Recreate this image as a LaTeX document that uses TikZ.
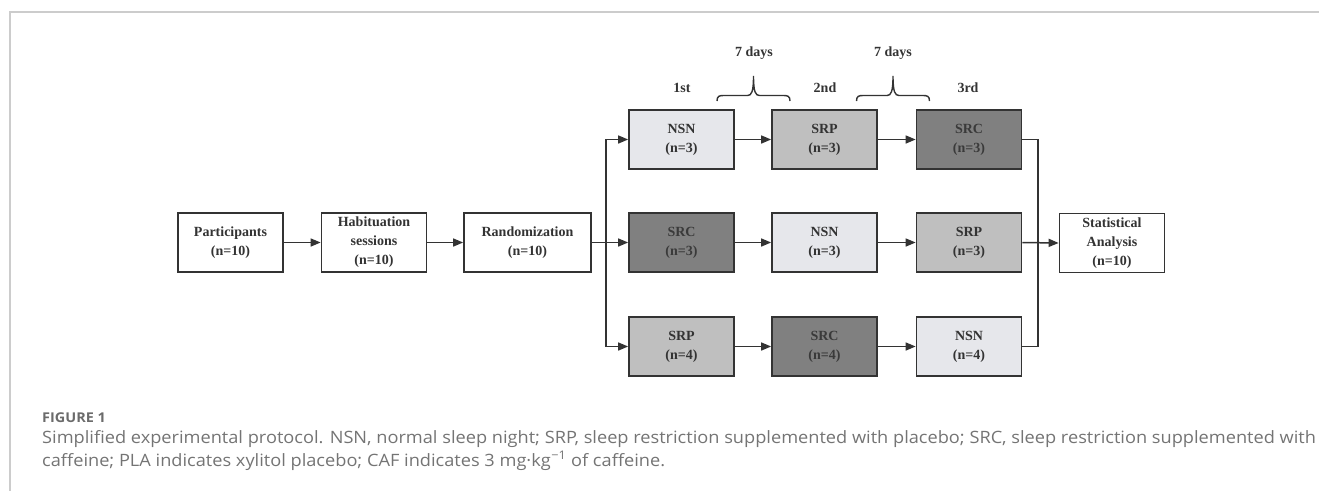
\documentclass[tikz,border=0pt]{standalone}
\usepackage{fontspec}
\setmainfont{Liberation Serif}
\newfontfamily\capfont[FakeStretch=1.07]{Open Sans}
\usetikzlibrary{arrows.meta}
\definecolor{boxline}{HTML}{333333}
\definecolor{nsnfill}{HTML}{E6E7EB}
\definecolor{srpfill}{HTML}{BFBFBF}
\definecolor{srcfill}{HTML}{808080}
\definecolor{srctext}{HTML}{3A3A3A}
\definecolor{framecol}{HTML}{CCCCCC}
\definecolor{captxt}{HTML}{747474}
\tikzset{
  x=1pt, y=-1pt,
  box/.style={draw=boxline, line width=1.7pt, minimum width=105pt, minimum height=59pt,
    inner sep=0pt, align=center, text=boxline, font=\fontsize{14}{19}\selectfont\bfseries},
  widebox/.style={box, minimum width=127pt},
  nsn/.style={box, fill=nsnfill},
  srp/.style={box, fill=srpfill},
  src/.style={box, fill=srcfill, text=srctext},
  arr/.style={draw=boxline, line width=1.5pt, -{Triangle[length=10pt,width=8pt]}},
  ln/.style={draw=boxline, line width=1.5pt},
  lbl/.style={font=\fontsize{14}{17}\selectfont\bfseries, text=boxline, inner sep=0pt},
  brc/.style={draw=boxline, line width=1.4pt},
  captext/.style={font=\capfont\fontsize{17}{20}\selectfont, text=captxt, anchor=base west, inner sep=0pt},
}
\begin{document}
\begin{tikzpicture}
\useasboundingbox (0,0) rectangle (1319,491);
% frame
\draw[framecol, line width=1.5pt] (1319,12) -- (10,12) -- (10,491);

% left chain
\node[box] (part) at (230.5,242.5) {Participants\\(n=10)};
\node[box] (hab) at (374,242.5) {Habituation\\sessions\\(n=10)};
\node[widebox] (rand) at (527.5,242.5) {Randomization\\(n=10)};
\node[box] (stat) at (1112,243) {Statistical\\Analysis\\(n=10)};

% grid
\node[nsn] (ra1) at (681.5,139.5) {NSN\\(n=3)};
\node[srp] (ra2) at (824.5,139.5) {SRP\\(n=3)};
\node[src] (ra3) at (969,139.5) {SRC\\(n=3)};
\node[src] (rb1) at (681.5,242.5) {SRC\\(n=3)};
\node[nsn] (rb2) at (824.5,242.5) {NSN\\(n=3)};
\node[srp] (rb3) at (969,242.5) {SRP\\(n=3)};
\node[srp] (rc1) at (681.5,346.5) {SRP\\(n=4)};
\node[src] (rc2) at (824.5,346.5) {SRC\\(n=4)};
\node[nsn] (rc3) at (969,346.5) {NSN\\(n=4)};

% labels
\node[lbl] (l1) at (682,88) {1st};
\node[lbl] (l2) at (825,88) {2nd};
\node[lbl] (l3) at (968,88) {3rd};
\node[lbl] (d1) at (754,53) {7 days};
\node[lbl] (d2) at (893,53) {7 days};

% braces
\foreach \bx in {753.5,893} {
  \draw[brc] (\bx-36.5,101) .. controls (\bx-36.5,96) and (\bx-34,95.5) .. (\bx-30,95.5)
    -- (\bx-6,95.5) .. controls (\bx-2,95.5) and (\bx,92) .. (\bx,76)
    .. controls (\bx,92) and (\bx+2,95.5) .. (\bx+6,95.5)
    -- (\bx+30,95.5) .. controls (\bx+34,95.5) and (\bx+36.5,96) .. (\bx+36.5,101);
}

% connectors
\draw[arr] (part.east) -- (hab.west);
\draw[arr] (hab.east) -- (rand.west);
\coordinate (split) at (606,242.5);
\coordinate (merge) at (1038,243);
\draw[arr] (rand.east) -- (rb1.west);
\draw[arr] (split) |- (ra1.west);
\draw[arr] (split) |- (rc1.west);
\draw[arr] (ra1.east) -- (ra2.west);
\draw[arr] (ra2.east) -- (ra3.west);
\draw[arr] (rb1.east) -- (rb2.west);
\draw[arr] (rb2.east) -- (rb3.west);
\draw[arr] (rc1.east) -- (rc2.west);
\draw[arr] (rc2.east) -- (rc3.west);
\draw[ln] (ra3.east) -| (merge);
\draw[ln] (rc3.east) -| (merge);
\draw[arr] (rb3.east) -- (stat.west);

% caption
\node[captext, font=\capfont\fontsize{13.5}{16}\selectfont\bfseries, text=black!58] (fig) at (42,422) {FIGURE 1};
\node[captext] (cap1) at (42,443) {Simplified experimental protocol. NSN, normal sleep night; SRP, sleep restriction supplemented with placebo; SRC, sleep restriction supplemented with};
\node[captext] (cap2) at (42,466) {caffeine; PLA indicates xylitol placebo; CAF indicates 3 mg·kg\textsuperscript{\kern0.5pt−1} of caffeine.};
\end{tikzpicture}
\end{document}
